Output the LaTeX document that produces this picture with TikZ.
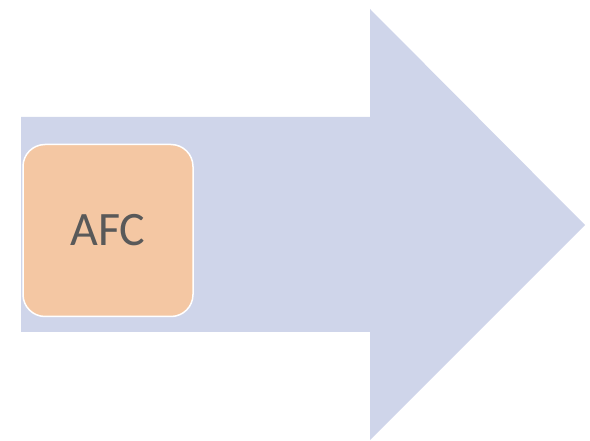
\documentclass[tikz,border=0pt]{standalone}
\usepackage{fontspec}
\setmainfont{Carlito}
\definecolor{arrowfill}{HTML}{CFD5EA}
\definecolor{boxfill}{HTML}{F4C7A3}
\definecolor{labeltext}{HTML}{595959}
\tikzset{
  stagebox/.style={draw=white,line width=1.5pt,fill=boxfill,rectangle,rounded corners=22pt,
    minimum width=170pt,minimum height=172pt,text=labeltext,font=\fontsize{48}{52}\selectfont},
}
\begin{document}
\begin{tikzpicture}[x=1pt,y=-1pt]
    \useasboundingbox (0,0) rectangle (590,441);
    %% Arrow
    \fill[arrowfill] (21,117) -- (370,117) -- (370,9) -- (585,225) -- (370,440) -- (370,332) -- (21,332) -- cycle;
    %% Box
    \node[stagebox] (afc) at (108,230.5) {AFC};
\end{tikzpicture}
\end{document}
